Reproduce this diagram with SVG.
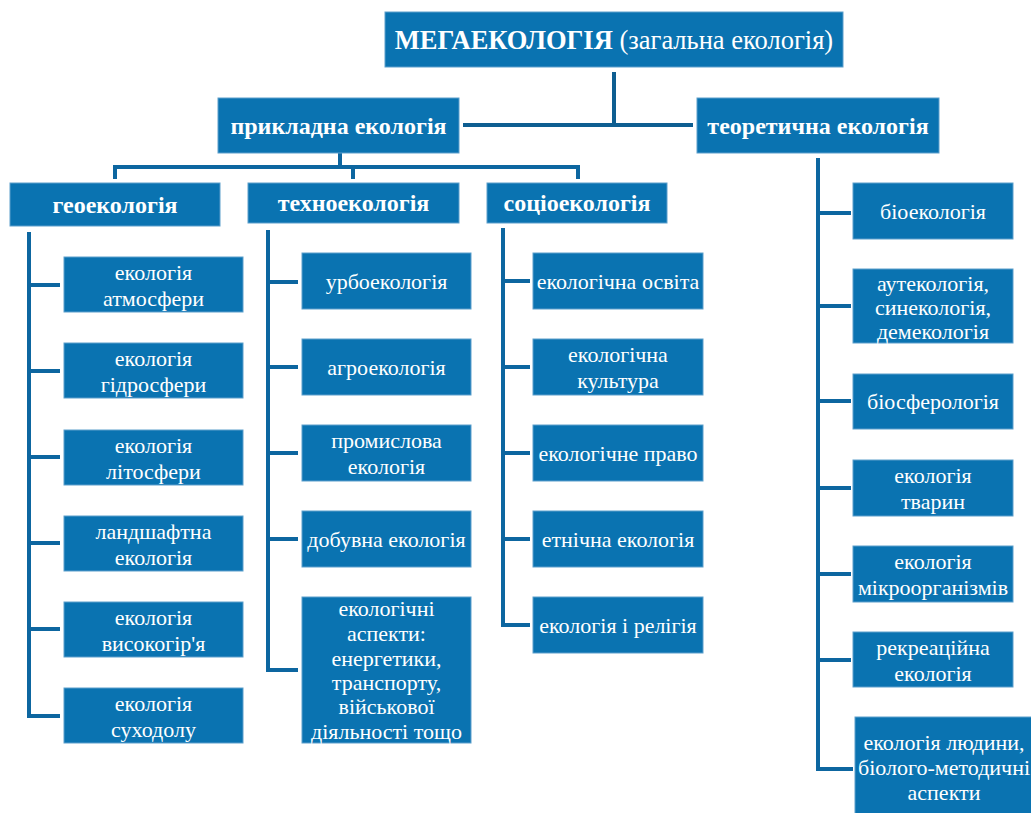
<svg xmlns="http://www.w3.org/2000/svg" width="1031" height="813" viewBox="0 0 1031 813">
<style>
.box{fill:#0a73b1;stroke:#5d9fcc;stroke-width:1}
text{font-family:'Liberation Serif',serif;fill:#ffffff;text-anchor:middle}
.t{font-size:22px}
.h{font-size:24px;font-weight:bold}
.ln{fill:none;stroke:#0d66a0;stroke-width:4;stroke-linejoin:miter}
.ln2{fill:none;stroke:#0e5e91;stroke-width:4}
</style>
<rect width="1031" height="813" fill="#ffffff"/>
<g id="connectors">
<path class="ln2" d="M614 72V125M463 125H693"/>
<path class="ln" d="M340 153V167M115 179V167H578V179M353 167V179"/>
<path class="ln" d="M818 158V769H853M818 213H851M818 306H851M818 401H851M818 488H851M818 574H851M818 660H851"/>
<path class="ln" d="M29 232V716H60M29 285H60M29 371H60M29 457H60M29 543H60M29 629H60"/>
<path class="ln" d="M268 230V670H298M268 282H298M268 367H298M268 453H298M268 539H298"/>
<path class="ln" d="M503 228V625H530M503 281H530M503 367H530M503 453H530M503 539H530"/>
</g>
<g id="n-mega"><rect class="box" x="385" y="12" width="458" height="55"/>
<text x="614" y="49" font-size="26.5"><tspan font-weight="bold">МЕГАЕКОЛОГІЯ</tspan> (загальна екологія)</text></g>
<g id="n-prykl"><rect class="box" x="218" y="98" width="241" height="55"/><text class="h" x="338.5" y="134">прикладна екологія</text></g>
<g id="n-teor"><rect class="box" x="697" y="98" width="242" height="55"/><text class="h" x="818" y="134">теоретична екологія</text></g>
<g id="n-geo"><rect class="box" x="10" y="183" width="210" height="43"/><text class="h" x="115" y="213">геоекологія</text></g>
<g id="n-tekhno"><rect class="box" x="248" y="183" width="211" height="40"/><text class="h" x="353.5" y="211">техноекологія</text></g>
<g id="n-sotsio"><rect class="box" x="487" y="183" width="180" height="40"/><text class="h" x="577" y="211">соціоекологія</text></g>

<g id="n-atm"><rect class="box" x="64" y="257" width="179" height="55"/><text class="t" x="153.5" y="280">екологія</text><text class="t" x="153.5" y="306">атмосфери</text></g>
<g id="n-hidro"><rect class="box" x="64" y="343" width="179" height="55"/><text class="t" x="153.5" y="366">екологія</text><text class="t" x="153.5" y="392">гідросфери</text></g>
<g id="n-lito"><rect class="box" x="64" y="430" width="179" height="55"/><text class="t" x="153.5" y="453">екологія</text><text class="t" x="153.5" y="479">літосфери</text></g>
<g id="n-landsh"><rect class="box" x="64" y="516" width="179" height="55"/><text class="t" x="153.5" y="539">ландшафтна</text><text class="t" x="153.5" y="565">екологія</text></g>
<g id="n-vysok"><rect class="box" x="64" y="602" width="179" height="55"/><text class="t" x="153.5" y="625">екологія</text><text class="t" x="153.5" y="651">високогір'я</text></g>
<g id="n-sukh"><rect class="box" x="64" y="688" width="179" height="55"/><text class="t" x="153.5" y="711">екологія</text><text class="t" x="153.5" y="737">суходолу</text></g>

<g id="n-urbo"><rect class="box" x="302" y="253" width="169" height="56"/><text class="t" x="386.5" y="289">урбоекологія</text></g>
<g id="n-agro"><rect class="box" x="302" y="339" width="169" height="56"/><text class="t" x="386.5" y="375">агроекологія</text></g>
<g id="n-promysl"><rect class="box" x="302" y="425" width="169" height="56"/><text class="t" x="386.5" y="448">промислова</text><text class="t" x="386.5" y="474">екологія</text></g>
<g id="n-dobuv"><rect class="box" x="302" y="511" width="169" height="56"/><text class="t" x="386.5" y="547">добувна екологія</text></g>
<g id="n-aspekty"><rect class="box" x="302" y="597" width="169" height="146"/>
<text class="t" x="386.5" y="616">екологічні</text><text class="t" x="386.5" y="641">аспекти:</text><text class="t" x="386.5" y="666">енергетики,</text><text class="t" x="386.5" y="690">транспорту,</text><text class="t" x="386.5" y="714">військової</text><text class="t" x="386.5" y="739">діяльності тощо</text></g>

<g id="n-osvita"><rect class="box" x="533" y="253" width="170" height="56"/><text class="t" x="618" y="289">екологічна освіта</text></g>
<g id="n-kultura"><rect class="box" x="533" y="339" width="170" height="56"/><text class="t" x="618" y="362">екологічна</text><text class="t" x="618" y="388">культура</text></g>
<g id="n-pravo"><rect class="box" x="533" y="425" width="170" height="56"/><text class="t" x="618" y="461">екологічне право</text></g>
<g id="n-etn"><rect class="box" x="533" y="511" width="170" height="56"/><text class="t" x="618" y="547">етнічна екологія</text></g>
<g id="n-relig"><rect class="box" x="533" y="597" width="170" height="56"/><text class="t" x="618" y="633">екологія і релігія</text></g>

<g id="n-bio"><rect class="box" x="853" y="183" width="160" height="56"/><text class="t" x="933" y="219">біоекологія</text></g>
<g id="n-aut"><rect class="box" x="853" y="269" width="160" height="74"/><text class="t" x="933" y="291">аутекологія,</text><text class="t" x="933" y="315">синекологія,</text><text class="t" x="933" y="339">демекологія</text></g>
<g id="n-biosf"><rect class="box" x="853" y="374" width="160" height="55"/><text class="t" x="933" y="409">біосферологія</text></g>
<g id="n-tvaryn"><rect class="box" x="853" y="460" width="160" height="56"/><text class="t" x="933" y="483">екологія</text><text class="t" x="933" y="509">тварин</text></g>
<g id="n-mikro"><rect class="box" x="853" y="546" width="160" height="56"/><text class="t" x="933" y="569">екологія</text><text class="t" x="933" y="595">мікроорганізмів</text></g>
<g id="n-rekr"><rect class="box" x="853" y="632" width="160" height="55"/><text class="t" x="933" y="655">рекреаційна</text><text class="t" x="933" y="681">екологія</text></g>
<g id="n-lyud"><rect class="box" x="855" y="717" width="180" height="100"/><text class="t" x="944" y="750">екологія людини,</text><text class="t" x="944" y="775">біолого-методичні</text><text class="t" x="944" y="800">аспекти</text></g>
</svg>
